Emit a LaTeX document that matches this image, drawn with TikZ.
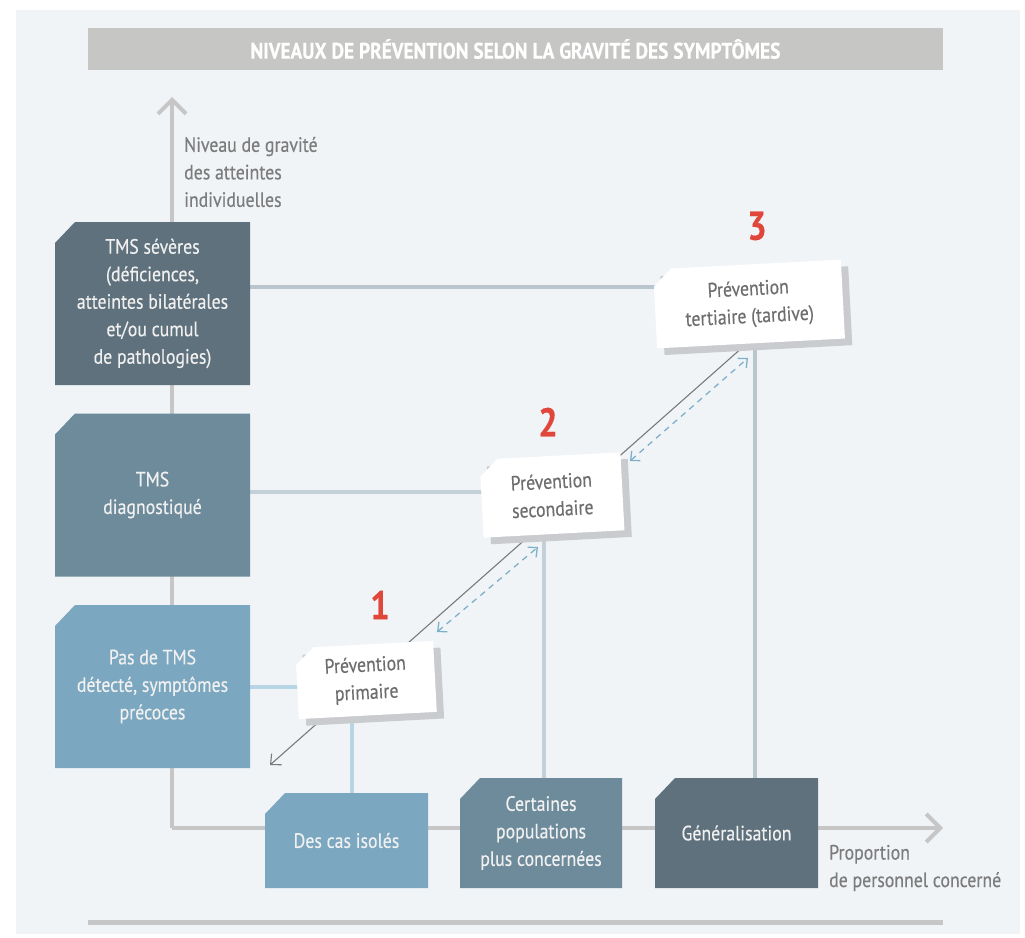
\documentclass[tikz,border=0pt]{standalone}
\usepackage{fontspec}
\setmainfont{PT Sans}[FakeStretch=0.86, FakeBold=0.35]
\usetikzlibrary{arrows.meta}
\definecolor{bg}{HTML}{F0F4F7}
\definecolor{titlebar}{HTML}{C6C6C4}
\definecolor{axiscol}{HTML}{C6C6C6}
\definecolor{cdark}{HTML}{5F717C}
\definecolor{cmid}{HTML}{6E8B9B}
\definecolor{clight}{HTML}{7BA7C0}
\definecolor{ldark}{HTML}{BAC6CD}
\definecolor{lmid}{HTML}{C3D0D8}
\definecolor{llight}{HTML}{B8D5E6}
\definecolor{txtgray}{HTML}{6E6E6E}
\definecolor{numred}{HTML}{E0463A}
\definecolor{dashblue}{HTML}{7FB0CB}
\definecolor{diagcol}{HTML}{7A7A7A}
\definecolor{shadowgray}{HTML}{C9CBCE}
\pgfdeclarelayer{bglayer}
\pgfdeclarelayer{background}
\pgfsetlayers{bglayer,background,main}
% cut-corner box: name, fill style, cx, cy, w, h, text
\newcommand{\levelnode}[7]{%
  \fill[#2] (#3-#5/2,#4+#6/2) -- (#3+#5/2,#4+#6/2) -- (#3+#5/2,#4-#6/2)
    -- (#3-#5/2+20,#4-#6/2) -- (#3-#5/2,#4-#6/2+21) -- cycle;
  \node[boxtext, minimum width=#5pt, minimum height=#6pt] (#1) at (#3,#4) {#7};}
% tilted white box with shadow: name, cx, cy, w, h, text
\newcommand{\prevnode}[6]{%
  \begin{scope}[shift={(#2,#3)}, rotate=3]
    \fill[prevshadow] (-#4/2+7,-#5/2+7) rectangle (#4/2+7,#5/2+7);
    \fill[prevfill] (-#4/2,#5/2) -- (#4/2,#5/2) -- (#4/2,-#5/2)
      -- (-#4/2+18,-#5/2) -- (-#4/2,-#5/2+17) -- cycle;
    \node[prevtext, transform shape] (#1) at (0,0) {#6};
  \end{scope}}
\begin{document}
\begin{tikzpicture}[x=1pt,y=-1pt,
  txt/.style={font=\fontsize{20.7}{27.5}\selectfont},
  boxtext/.style={inner sep=0pt, align=center, text=white!94!black, txt},
  prevtext/.style={inner sep=0pt, align=center, text=txtgray, txt},
  prevfill/.style={fill=white},
  prevshadow/.style={fill=shadowgray},
  axisline/.style={draw=axiscol, line width=4pt, -{Straight Barb[length=14pt,width=28pt]}},
  conn/.style={line width=4pt},
  diagline/.style={draw=diagcol, line width=1.1pt, -{Straight Barb[length=8pt,width=15pt]}},
  dashline/.style={draw=dashblue, line width=1.3pt, dash pattern=on 6pt off 5pt,
    {Straight Barb[length=7pt,width=13pt]}-{Straight Barb[length=7pt,width=13pt]}},
  num/.style={text=numred, font=\fontsize{40}{40}\selectfont\bfseries},
  lbl/.style={txt, text=txtgray!90!white, align=left, inner sep=0pt, anchor=west}
]
\useasboundingbox (0,0) rectangle (1025,937);
\begin{pgfonlayer}{bglayer}
\fill[bg] (16,10) rectangle (1020,934);
\end{pgfonlayer}

% title
\node[fill=titlebar, minimum width=855pt, minimum height=42pt, inner sep=0pt,
  text=white, font=\fontsize{22.5}{22.5}\selectfont\bfseries] (title) at (515.5,49)
  {NIVEAUX DE PRÉVENTION SELON LA GRAVITÉ DES SYMPTÔMES};

% axes
\coordinate (origin) at (172,828);
\coordinate (ytip) at (172,97);
\coordinate (xtip) at (943,828);
\begin{pgfonlayer}{background}
\draw[axisline] (origin) -- (ytip);
\draw[axisline] (origin) -- (xtip);
\end{pgfonlayer}
\node[lbl] (ylabel) at (184,172) {Niveau de gravité\\des atteintes\\individuelles};
\node[lbl] (xlabel) at (829,868) {Proportion\\de personnel concerné};

% level boxes
\levelnode{sev}{cdark}{152.5}{303.5}{195}{163}
  {TMS sévères\\(déficiences,\\atteintes bilatérales\\et/ou cumul\\de pathologies)}
\levelnode{diagn}{cmid}{152.5}{495}{195}{163}{TMS\\diagnostiqué}
\levelnode{pas}{clight}{152.5}{686.5}{195}{163}{Pas de TMS\\détecté, symptômes\\précoces}

% population boxes
\levelnode{isoles}{clight}{346.5}{840.5}{163}{95}{Des cas isolés}
\levelnode{cert}{cmid}{541}{833}{162}{110}{Certaines\\populations\\plus concernées}
\levelnode{gen}{cdark}{736.5}{833}{163}{110}{Généralisation}

% prevention boxes
\prevnode{prim}{366}{680}{138}{71}{Prévention\\primaire}
\prevnode{sec}{552}{495}{141}{78}{Prévention\\secondaire}
\prevnode{tert}{749}{304}{188}{79}{Prévention\\tertiaire (tardive)}

% numbers
\node[num] (n1) at (380,605) {1};
\node[num] (n2) at (548,422) {2};
\node[num] (n3) at (757,226) {3};

% connectors
\begin{pgfonlayer}{background}
\draw[conn, ldark] ([yshift=16.5pt]sev.east) -- ([yshift=16.5pt]sev.east -| tert.center);
\draw[conn, lmid] ([yshift=3pt]diagn.east) -- ([yshift=3pt]diagn.east -| sec.center);
\draw[conn, llight] (pas.east) -- (pas.east -| prim.center);
\draw[conn, llight] ([xshift=5.5pt]isoles.north) -- ([xshift=5.5pt]isoles.north |- prim.center);
\draw[conn, lmid] ([xshift=3pt]cert.north) -- ([xshift=3pt]cert.north |- sec.center);
\draw[conn, ldark] ([xshift=18.5pt]gen.north) -- ([xshift=18.5pt]gen.north |- tert.center);
\coordinate (dtop) at (770.6,322.5);
\coordinate (dbot) at (270,765);
\draw[diagline] (dtop) -- (dbot);
\end{pgfonlayer}
\coordinate (d1a) at (437,632);
\coordinate (d1b) at (538,547);
\coordinate (d2a) at (630,461);
\coordinate (d2b) at (748,358);
\draw[dashline] (d1a) -- (d1b);
\draw[dashline] (d2a) -- (d2b);

% bottom rule
\draw[draw=axiscol, line width=5pt] (88,922) -- (943,922);
\end{tikzpicture}
\end{document}
